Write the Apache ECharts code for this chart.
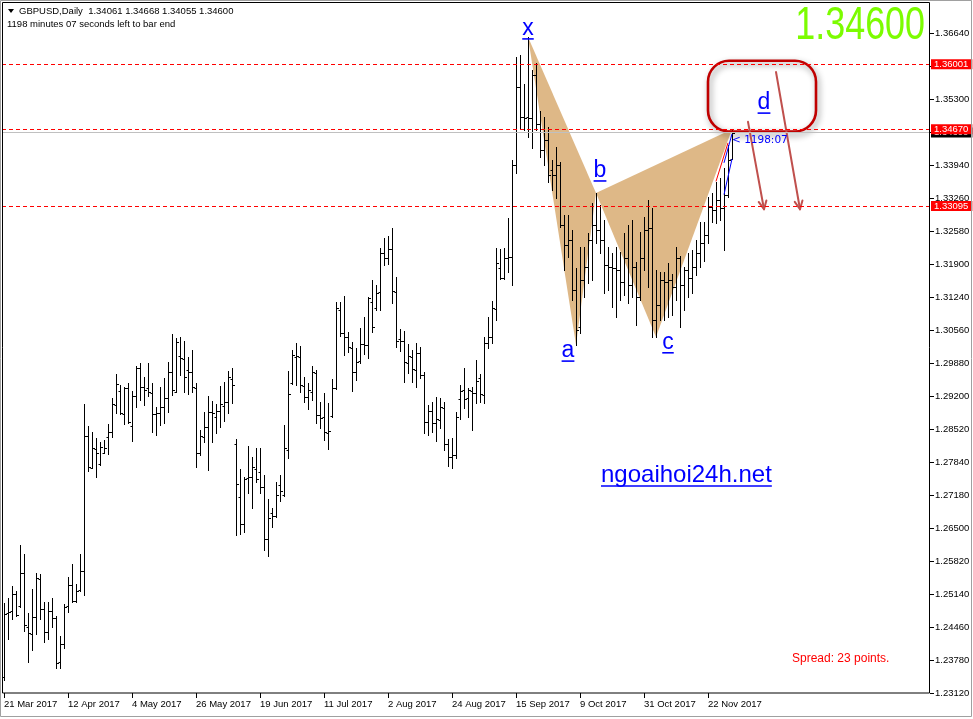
<!DOCTYPE html>
<html><head><meta charset="utf-8">
<script src="https://cdn.jsdelivr.net/npm/echarts@6/dist/echarts.min.js"></script>
<style>html,body{margin:0;padding:0;background:#fff}#c{width:973px;height:719px}</style>
</head><body><div id="c"></div>
<script>
// ---------- data ----------
const xTickLabels = ['21 Mar 2017','12 Apr 2017','4 May 2017','26 May 2017','19 Jun 2017','11 Jul 2017','2 Aug 2017','24 Aug 2017','15 Sep 2017','9 Oct 2017','31 Oct 2017','22 Nov 2017'];
const yTickLabels = ['1.23120','1.23780','1.24460','1.25140','1.25820','1.26500','1.27180','1.27840','1.28520','1.29200','1.29880','1.30560','1.31240','1.31900','1.32580','1.33260','1.33940','1.34620','1.35300','1.35960','1.36640'];
const Y_MIN = 1.2312, Y_MAX = 1.37254, Y_STEP = 0.00676;
const SLOTS = 232; // bars + empty space on the right

const opens = [1.2345,1.2476,1.2480,1.2515,1.2490,1.2558,1.2447,1.2433,1.2468,1.2545,1.2484,1.2437,1.2480,1.2466,1.2375,1.2412,1.2490,1.2533,1.2500,1.2523,
1.2562,1.2838,1.2772,1.2812,1.2781,1.2803,1.2836,1.2847,1.2902,1.2931,1.2884,1.2937,1.2859,1.2920,1.2978,1.2939,1.2937,1.2927,1.2884,1.2886,
1.2898,1.2916,1.2970,1.2929,1.3002,1.2996,1.2974,1.2970,1.2937,1.2803,1.2836,1.2857,1.2888,1.2877,1.2890,1.2900,1.2908,1.2955,1.2822,1.2713,
1.2658,1.2752,1.2754,1.2770,1.2764,1.2734,1.2627,1.2681,1.2674,1.2738,1.2717,1.2810,1.2947,1.3000,1.3000,1.2941,1.2918,1.2929,1.2968,1.2882,
1.2878,1.2845,1.2880,1.2937,1.3096,1.3049,1.3041,1.3019,1.2970,1.2992,1.3027,1.3025,1.3113,1.3100,1.3133,1.3213,1.3203,1.3222,1.3133,1.3037,
1.3033,1.2988,1.3000,1.2974,1.3008,1.2963,1.2867,1.2890,1.2865,1.2871,1.2896,1.2822,1.2795,1.2799,1.2914,1.2933,1.2916,1.2931,1.2927,1.2957,
1.2922,1.3029,1.3041,1.3098,1.3183,1.3162,1.3203,1.3205,1.3394,1.3553,1.3492,1.3492,1.3490,1.3578,1.3477,1.3424,1.3445,1.3383,1.3373,1.3394,
1.3271,1.3230,1.3240,1.3138,1.3062,1.3158,1.3185,1.3240,1.3271,1.3260,1.3240,1.3189,1.3185,1.3183,1.3178,1.3154,1.3203,1.3148,1.3185,1.3123,
1.3203,1.3260,1.3265,1.3076,1.3107,1.3158,1.3154,1.3158,1.3144,1.3203,1.3148,1.3178,1.3162,1.3185,1.3213,1.3234,1.3250,1.3308,1.3301,1.3322,
1.3306,1.3332,1.34061];
const highs = [1.2497,1.2507,1.2531,1.2521,1.2615,1.2597,1.2476,1.2525,1.2558,1.2556,1.2498,1.2498,1.2507,1.2470,1.2429,1.2494,1.2549,1.2576,1.2535,1.2597,
1.2904,1.2859,1.2847,1.2834,1.2826,1.2830,1.2863,1.2916,1.2965,1.2943,1.2939,1.2947,1.2931,1.2982,1.2988,1.2959,1.2988,1.2947,1.2898,1.2939,
1.2957,1.2990,1.3047,1.3039,1.3041,1.3033,1.3000,1.3014,1.2947,1.2851,1.2888,1.2920,1.2910,1.2904,1.2941,1.2949,1.2972,1.2978,1.2832,1.2770,
1.2754,1.2818,1.2795,1.2814,1.2814,1.2758,1.2709,1.2691,1.2744,1.2758,1.2861,1.2972,1.3014,1.3029,1.3023,1.2959,1.2947,1.2982,1.2974,1.2908,
1.2927,1.2906,1.2955,1.3113,1.3113,1.3125,1.3051,1.3031,1.3019,1.3060,1.3082,1.3123,1.3158,1.3148,1.3224,1.3244,1.3248,1.3265,1.3164,1.3058,
1.3054,1.3027,1.3014,1.3029,1.3021,1.2970,1.2902,1.2908,1.2918,1.2916,1.2908,1.2832,1.2834,1.2888,1.2943,1.2978,1.2937,1.2939,1.2994,1.2966,
1.3041,1.3082,1.3115,1.3224,1.3222,1.3224,1.3285,1.3404,1.3615,1.3619,1.3559,1.3656,1.3588,1.3603,1.3505,1.3492,1.3471,1.3404,1.3430,1.3400,
1.3291,1.3291,1.3260,1.3183,1.3226,1.3226,1.3254,1.3316,1.3336,1.3312,1.3281,1.3226,1.3213,1.3226,1.3215,1.3254,1.3271,1.3281,1.3195,1.3257,
1.3287,1.3322,1.3306,1.3178,1.3174,1.3174,1.3193,1.3170,1.3226,1.3207,1.3185,1.3213,1.3219,1.3240,1.3277,1.3277,1.3328,1.3336,1.3359,1.3367,
1.3387,1.3434,1.34668];
const lows = [1.2339,1.2423,1.2464,1.2470,1.2488,1.2439,1.2375,1.2400,1.2433,1.2464,1.2417,1.2423,1.2447,1.2363,1.2363,1.2405,1.2478,1.2498,1.2498,1.2521,
1.2513,1.2766,1.2772,1.2754,1.2779,1.2803,1.2801,1.2836,1.2886,1.2883,1.2863,1.2865,1.2828,1.2898,1.2912,1.2902,1.2920,1.2847,1.2840,1.2861,
1.2865,1.2888,1.2922,1.2929,1.2963,1.2929,1.2925,1.2929,1.2774,1.2799,1.2826,1.2768,1.2826,1.2844,1.2857,1.2869,1.2886,1.2906,1.2636,1.2638,
1.2642,1.2721,1.2691,1.2744,1.2721,1.2605,1.2593,1.2652,1.2672,1.2705,1.2715,1.2793,1.2945,1.2943,1.2929,1.2908,1.2894,1.2912,1.2865,1.2855,
1.2830,1.2812,1.2878,1.2935,1.3043,1.3004,1.3010,1.2931,1.2953,1.2988,1.3006,1.2998,1.3051,1.3097,1.3097,1.3189,1.3191,1.3111,1.3021,1.3012,
1.2949,1.2968,1.2949,1.2939,1.2957,1.2844,1.2840,1.2847,1.2828,1.2855,1.2810,1.2777,1.2772,1.2793,1.2873,1.2896,1.2878,1.2851,1.2906,1.2908,
1.2906,1.3019,1.3029,1.3076,1.3160,1.3160,1.3174,1.3148,1.3377,1.3467,1.3465,1.3451,1.3428,1.3465,1.3410,1.3394,1.3359,1.3343,1.3326,1.3267,
1.3178,1.3206,1.3117,1.3025,1.3050,1.3123,1.3152,1.3158,1.3234,1.3213,1.3131,1.3138,1.3103,1.3082,1.3117,1.3127,1.3111,1.3123,1.3066,1.3117,
1.3178,1.3144,1.3041,1.3041,1.3076,1.3076,1.3082,1.3086,1.3117,1.3062,1.3097,1.3123,1.3131,1.3168,1.3185,1.3197,1.3234,1.3277,1.3275,1.3281,
1.3219,1.3328,1.34055];
const closes = [1.2474,1.2478,1.2515,1.2472,1.2558,1.2451,1.2435,1.2468,1.2547,1.2484,1.2437,1.2480,1.2466,1.2373,1.2412,1.2488,1.2533,1.2500,1.2521,1.2562,
1.2838,1.2774,1.2814,1.2803,1.2816,1.2814,1.2847,1.2904,1.2945,1.2886,1.2937,1.2867,1.2920,1.2978,1.2939,1.2933,1.2929,1.2884,1.2886,1.2898,
1.2916,1.2970,1.2933,1.3031,1.2998,1.2959,1.2970,1.2939,1.2803,1.2838,1.2857,1.2888,1.2886,1.2890,1.2904,1.2908,1.2959,1.2943,1.2740,1.2658,
1.2750,1.2754,1.2774,1.2750,1.2734,1.2627,1.2670,1.2674,1.2717,1.2725,1.2814,1.2925,1.3004,1.3002,1.2943,1.2918,1.2933,1.2970,1.2882,1.2876,
1.2847,1.2849,1.2937,1.3100,1.3049,1.3041,1.3021,1.2970,1.2990,1.3027,1.3025,1.3121,1.3062,1.3131,1.3213,1.3203,1.3222,1.3135,1.3033,1.3033,
1.2990,1.3002,1.2976,1.3008,1.2963,1.2867,1.2890,1.2865,1.2873,1.2898,1.2822,1.2795,1.2799,1.2877,1.2931,1.2914,1.2933,1.2927,1.2951,1.2925,
1.3029,1.3041,1.3100,1.3193,1.3162,1.3203,1.3205,1.3394,1.3553,1.3492,1.3490,1.3490,1.3578,1.3477,1.3424,1.3445,1.3373,1.3373,1.3394,1.3271,
1.3230,1.3240,1.3138,1.3056,1.3158,1.3185,1.3240,1.3271,1.3260,1.3240,1.3189,1.3185,1.3183,1.3178,1.3154,1.3203,1.3148,1.3185,1.3123,1.3203,
1.3260,1.3265,1.3076,1.3107,1.3158,1.3154,1.3158,1.3144,1.3203,1.3148,1.3178,1.3162,1.3185,1.3213,1.3234,1.3250,1.3308,1.3301,1.3322,1.3306,
1.3332,1.3404,1.34600];

// harmonic pattern points X A B C D (bar index, price)
const patternBar   = [131, 143, 148, 163, 182];
const patternPrice = [1.3656, 1.3025, 1.3336, 1.3041, 1.34668];
const patternNames = ['x', 'a', 'b', 'c', 'd'];
const nameBar      = [131, 141.25, 149, 165.5, 189.75];
const nameBaseline = [1.3658, 1.2998, 1.3367, 1.3015, 1.3506];

// horizontal levels
const levelPrices = [1.36001, 1.34670, 1.33095];
const bidPrice = 1.34600;

// drawing objects (bar index, price)
const boxCorners = [[175.5, 1.3607], [203, 1.3462]];
const arrows = [[[185.7, 1.3482], [190, 1.3303]], [[192.8, 1.3584], [198.8, 1.3303]]];
const redTrend = [[178.2, 1.3360], [181.1, 1.3439]];
const blueTrends = [[[179.8, 1.3398], [182.0, 1.3457]], [[180.0, 1.3333], [182.2, 1.3406]]];
const timerAnchor = [182.2, 1.3445];

// ---------- build ----------
const FONT = '"Liberation Sans", Arial, sans-serif';
const categories = [];
for (let i = 0; i < SLOTS; i++) categories.push(String(i));
const barData = opens.map((o, i) => [i, o, highs[i], lows[i], closes[i]]);

const mctx = document.createElement('canvas').getContext('2d');
function textW(t, font) { mctx.font = font; return mctx.measureText(t).width; }

const chart = echarts.init(document.getElementById('c'), null, {renderer: 'canvas'});

function renderBar(params, api) {
  const i = api.value(0);
  const pO = api.coord([i, api.value(1)]);
  const pH = api.coord([i, api.value(2)]);
  const pL = api.coord([i, api.value(3)]);
  const pC = api.coord([i, api.value(4)]);
  const x = Math.round(pO[0]) + 0.5;
  const yO = Math.round(pO[1]) + 0.5, yC = Math.round(pC[1]) + 0.5;
  const st = {stroke: '#000', lineWidth: 1};
  return {type: 'group', children: [
    {type: 'line', shape: {x1: x, y1: Math.round(pH[1]), x2: x, y2: Math.round(pL[1]) + 1}, style: st},
    {type: 'line', shape: {x1: x - 2, y1: yO, x2: x, y2: yO}, style: st},
    {type: 'line', shape: {x1: x, y1: yC, x2: x + 2.5, y2: yC}, style: st}
  ]};
}

function renderPattern(params, api) {
  const idx = params.dataIndex === 0 ? [0, 1, 2] : [2, 3, 4];
  const pts = idx.map(k => api.coord([patternBar[k], patternPrice[k]]));
  return {type: 'polygon', shape: {points: pts}, style: {fill: '#deb887'}};
}

function arrowShapes(a, b, api, color) {
  const p1 = api.coord(a), p2 = api.coord(b);
  const ang = Math.atan2(p2[1] - p1[1], p2[0] - p1[0]);
  const L = 9, s = 0.45;
  const st = {stroke: color, lineWidth: 2, lineCap: 'round'};
  return [
    {type: 'line', shape: {x1: p1[0], y1: p1[1], x2: p2[0], y2: p2[1]}, style: st},
    {type: 'line', shape: {x1: p2[0], y1: p2[1], x2: p2[0] - L * Math.cos(ang - s), y2: p2[1] - L * Math.sin(ang - s)}, style: st},
    {type: 'line', shape: {x1: p2[0], y1: p2[1], x2: p2[0] - L * Math.cos(ang + s), y2: p2[1] - L * Math.sin(ang + s)}, style: st}
  ];
}

function renderAnnot(params, api) {
  const ch = [];
  // pattern letters, underlined
  const fs = 23, f = fs + 'px ' + FONT;
  patternNames.forEach((n, k) => {
    const p = api.coord([nameBar[k], nameBaseline[k]]);
    const w = textW(n, f);
    ch.push({type: 'text', x: p[0], y: p[1] - 0.31 * fs,
      style: {text: n, fill: '#0000ff', font: f, textAlign: 'center', textVerticalAlign: 'middle', align: 'center', verticalAlign: 'middle'}});
    ch.push({type: 'line', shape: {x1: p[0] - w / 2, y1: p[1] + 3, x2: p[0] + w / 2, y2: p[1] + 3}, style: {stroke: '#0000ff', lineWidth: 1.6}});
  });
  // rounded box
  const b1 = api.coord(boxCorners[0]), b2 = api.coord(boxCorners[1]);
  ch.push({type: 'rect', shape: {x: b1[0], y: b1[1], width: b2[0] - b1[0], height: b2[1] - b1[1], r: 21},
    style: {fill: 'none', stroke: '#c00000', lineWidth: 2.6, shadowBlur: 6, shadowColor: 'rgba(0,0,0,0.45)', shadowOffsetX: 2, shadowOffsetY: 3}});
  arrows.forEach(a => ch.push(...arrowShapes(a[0], a[1], api, '#c0504d')));
  // small trend lines near the last bars
  const r1 = api.coord(redTrend[0]), r2 = api.coord(redTrend[1]);
  ch.push({type: 'line', shape: {x1: r1[0], y1: r1[1], x2: r2[0], y2: r2[1]}, style: {stroke: '#ff0000', lineWidth: 1}});
  blueTrends.forEach(t => {
    const q1 = api.coord(t[0]), q2 = api.coord(t[1]);
    ch.push({type: 'line', shape: {x1: q1[0], y1: q1[1], x2: q2[0], y2: q2[1]}, style: {stroke: '#0000ff', lineWidth: 1}});
  });
  const tp = api.coord(timerAnchor);
  ch.push({type: 'text', x: tp[0], y: tp[1], style: {text: '< 1198:07', fill: '#0000ff', font: '10.5px "DejaVu Sans", sans-serif',
    textAlign: 'left', textVerticalAlign: 'middle', align: 'left', verticalAlign: 'middle'}});
  return {type: 'group', children: ch};
}

const smallFont = 9.5;
const siteFont = '24px ' + FONT;
const siteW = textW('ngoaihoi24h.net', siteFont);

const option = {
  animation: false,
  backgroundColor: '#ffffff',
  grid: {left: 2, right: 43, top: 3, bottom: 26, containLabel: false, outerBoundsMode: 'none'},
  xAxis: {
    type: 'category', data: categories, boundaryGap: true,
    axisLine: {show: false},
    axisTick: {show: true, alignWithLabel: true, length: 5, lineStyle: {color: '#000'},
      interval: (idx) => idx % 16 === 0 && idx < opens.length},
    axisLabel: {show: true, interval: (idx) => idx % 16 === 0 && idx < opens.length,
      formatter: (v, idx) => xTickLabels[Math.round(Number(v) / 16)] || '',
      align: 'left', margin: 6, color: '#000', fontSize: smallFont, fontFamily: FONT},
    splitLine: {show: false}
  },
  yAxis: {
    type: 'value', position: 'right', min: Y_MIN, max: Y_MAX, interval: Y_STEP, scale: true,
    axisLine: {show: false},
    axisTick: {show: true, length: 4, lineStyle: {color: '#000'}},
    axisLabel: {show: true, margin: 5, color: '#000', fontSize: smallFont, fontFamily: FONT, showMaxLabel: false,
      formatter: (v) => {
        const k = Math.round((v - Y_MIN) / Y_STEP);
        if (Math.abs(v - (Y_MIN + k * Y_STEP)) > 1e-7) return '';
        return yTickLabels[k] || '';
      }},
    splitLine: {show: false}
  },
  series: [
    {type: 'custom', name: 'pattern', data: [[0], [1]], renderItem: renderPattern, z: 1, silent: true},
    {type: 'custom', name: 'GBPUSD', data: barData, encode: {x: 0, y: [1, 2, 3, 4]}, renderItem: renderBar, z: 3, silent: true,
      markLine: {
        symbol: 'none', silent: true, animation: false, precision: 5,
        label: {show: true, position: 'end', distance: 1, fontSize: smallFont, fontFamily: FONT, lineHeight: 10, padding: [0, 4, 0, 3]},
        data: [
          {yAxis: bidPrice, lineStyle: {color: '#c0c0c0', type: 'solid', width: 1},
            label: {formatter: bidPrice.toFixed(5), color: '#fff', backgroundColor: '#000'}},
          ...levelPrices.map(p => ({yAxis: p, lineStyle: {color: '#ff0000', type: [4, 3], width: 1},
            label: {formatter: p.toFixed(5), color: '#fff', backgroundColor: '#ff0000'}}))
        ]
      }},
    {type: 'custom', name: 'objects', data: [[0, 1.3]], renderItem: renderAnnot, z: 4, silent: true, clip: false}
  ],
  graphic: [
    {type: 'rect', shape: {x: 0.5, y: 0.5, width: 971, height: 716}, style: {fill: 'none', stroke: '#a0a0a0', lineWidth: 1}, z: 10, silent: true},
    {type: 'rect', shape: {x: 2.5, y: 2.5, width: 927, height: 690.5}, style: {fill: 'none', stroke: '#000', lineWidth: 1}, z: 10, silent: true},
    {type: 'polygon', shape: {points: [[8, 9], [14, 9], [11, 13]]}, style: {fill: '#000'}, z: 10},
    {type: 'text', x: 19, y: 11.5, style: {text: 'GBPUSD,Daily  1.34061 1.34668 1.34055 1.34600', fill: '#000', font: smallFont + 'px ' + FONT,
      textVerticalAlign: 'middle', verticalAlign: 'middle'}, z: 10},
    {type: 'text', x: 7, y: 24.5, style: {text: '1198 minutes 07 seconds left to bar end', fill: '#000', font: smallFont + 'px ' + FONT,
      textVerticalAlign: 'middle', verticalAlign: 'middle'}, z: 10},
    {type: 'text', x: 925, y: 26, scaleX: 0.78, style: {text: '1.34600', fill: '#7cfc00', font: '46px ' + FONT,
      textAlign: 'right', align: 'right', textVerticalAlign: 'middle', verticalAlign: 'middle'}, z: 10},
    {type: 'text', x: 601, y: 475, style: {text: 'ngoaihoi24h.net', fill: '#0000ff', font: siteFont,
      textVerticalAlign: 'middle', verticalAlign: 'middle'}, z: 10},
    {type: 'line', shape: {x1: 601, y1: 486, x2: 601 + siteW, y2: 486}, style: {stroke: '#0000ff', lineWidth: 1.6}, z: 10},
    {type: 'text', x: 792, y: 659, style: {text: 'Spread: 23 points.', fill: '#ff0000', font: '12px ' + FONT,
      textVerticalAlign: 'middle', verticalAlign: 'middle'}, z: 10}
  ]
};
chart.setOption(option);
</script>
</body></html>
